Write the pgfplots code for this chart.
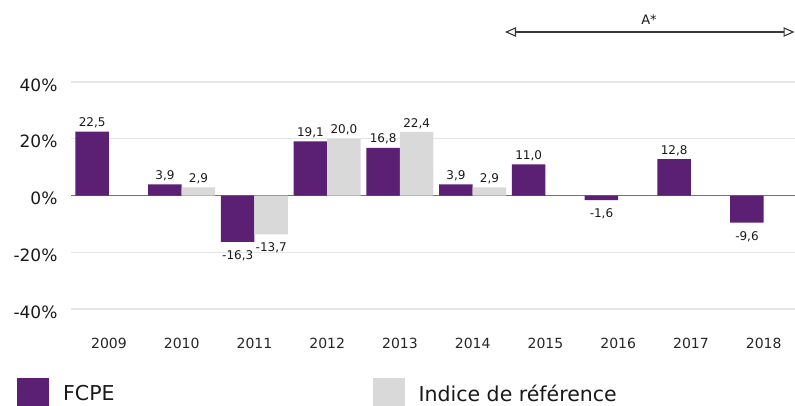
\documentclass[border=0pt]{standalone}
\usepackage{fontspec}
\setmainfont{DejaVu Sans}
\usepackage{pgfplots}
\pgfplotsset{compat=1.18}
\usetikzlibrary{arrows.meta}
\definecolor{fcpe}{RGB}{91,31,115}
\definecolor{idx}{RGB}{217,217,217}
\definecolor{gridc}{RGB}{230,230,230}
\begin{document}
\begin{tikzpicture}[x=1pt,y=1pt]
\useasboundingbox (0,0) rectangle (795,405);
\clip (0,0) rectangle (795,405);
\begin{axis}[
  at={(71pt,96pt)}, anchor=south west,
  scale only axis, width=724pt, height=227pt,
  xmin=-0.522, xmax=9.43, ymin=-40, ymax=40,
  clip=false,
  ybar, bar width=33.5pt,
  axis line style={draw=none},
  tick style={draw=none},
  major tick length=0pt,
  xtick={0,1,2,3,4,5,6,7,8,9},
  xticklabels={2009,2010,2011,2012,2013,2014,2015,2016,2017,2018},
  xticklabel style={font=\fontsize{14}{16}\selectfont, yshift=-26pt, text=black!85},
  ytick={-40,-20,0,20,40},
  yticklabel={\pgfmathprintnumber[assume math mode=true]{\tick}\%},
  yticklabel style={font=\fontsize{17}{19}\selectfont, xshift=-10pt, yshift=-3pt, text=black!90},
  ymajorgrids,
  major grid style={draw=gridc, line width=1.2pt},
  extra y ticks={0},
  extra y tick labels={},
  extra y tick style={grid=major, major grid style={draw=black!55, line width=1.8pt}},
  nodes near coords={\pgfmathprintnumber[fixed,fixed zerofill,precision=1,use comma,assume math mode=true]{\pgfplotspointmeta}},
  visualization depends on={y \as \rawy},
  every node near coord/.append style={font=\fontsize{12}{14}\selectfont, text=black!90, yshift={(\rawy<0)*(-5)}},
  legend style={at={(-0.0746,-0.3744)}, anchor=west, draw=none, fill=none,
    inner sep=0pt, font=\fontsize{20.5}{24}\selectfont, text=black!90,
    nodes={inner sep=0pt},
    /tikz/every odd column/.append style={column sep=14pt},
    /tikz/every even column/.append style={column sep=258pt}},
  legend columns=2,
]
\addplot[fill=fcpe, draw=none, bar shift=-16.75pt,
  legend image code/.code={\fill[fcpe] (0pt,-16pt) rectangle (32pt,16pt);}]
  coordinates {(0,22.5) (1,3.9) (2,-16.3) (3,19.1) (4,16.8) (5,3.9) (6,11.0) (7,-1.6) (8,12.8) (9,-9.6)};
\addlegendentry{FCPE}
\addplot[fill=idx, draw=none, bar shift=16.75pt,
  legend image code/.code={\fill[idx] (0pt,-16pt) rectangle (32pt,16pt);}]
  coordinates {(1,2.9) (2,-13.7) (3,20.0) (4,22.4) (5,2.9)};
\addlegendentry{Indice de référence}
\end{axis}
\draw[line width=1.1pt, draw=black!78,
  {Triangle[open,length=11pt,width=9.5pt]}-{Triangle[open,length=11pt,width=9.5pt]}]
  (505,373) -- (794.5,373);
\node[font=\fontsize{13}{15}\selectfont, text=black!90] at (649,385) {A*};
\end{tikzpicture}
\end{document}
